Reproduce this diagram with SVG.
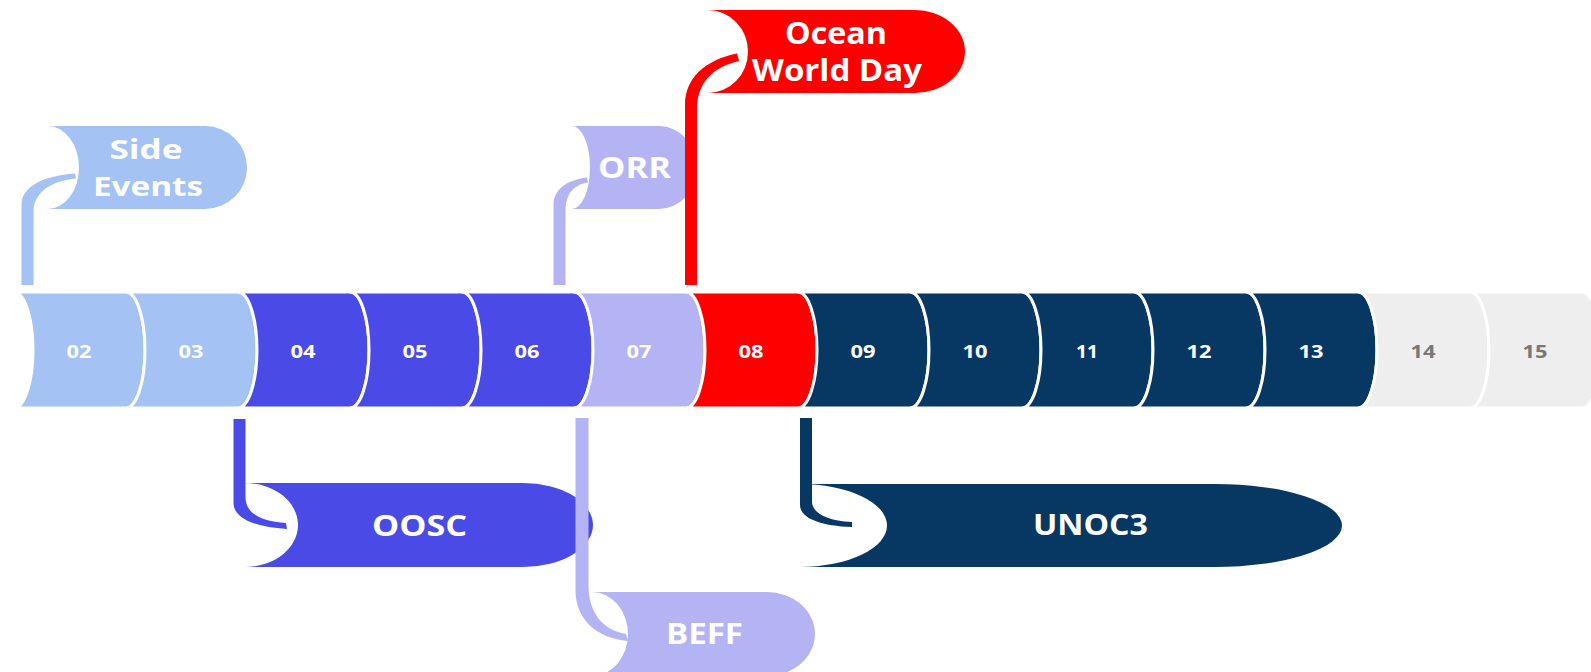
<svg xmlns="http://www.w3.org/2000/svg" width="1591" height="672" viewBox="0 0 1591 672">
<style>
.seg{stroke:#fff;stroke-width:3}
.num{font-family:"Open Sans","Liberation Sans",sans-serif;font-weight:700;font-size:18px;fill:#fff;text-anchor:middle}
.num.g{fill:#777}
.lbl{font-family:"Open Sans","Liberation Sans",sans-serif;font-weight:700;fill:#fff;text-anchor:middle}
.lb{fill:#a4c2f4}.ind{fill:#4a4ae6}.lav{fill:#b4b4f4}.red{fill:#ff0000}.navy{fill:#073763}.gray{fill:#eeeeee}
</style>
<rect width="1591" height="672" fill="#fff"/>
<g id="timeline">
<g id="d02"><path class="seg lb" d="M14,292 H126 A19,58 0 0 1 126,408 H14 A19,58 0 0 0 14,292 Z"/><text class="num" x="79" y="358" textLength="25" lengthAdjust="spacingAndGlyphs">02</text></g>
<g id="d03"><path class="seg lb" d="M126,292 H238 A19,58 0 0 1 238,408 H126 A19,58 0 0 0 126,292 Z"/><text class="num" x="191" y="358" textLength="25" lengthAdjust="spacingAndGlyphs">03</text></g>
<g id="d04"><path class="seg ind" d="M238,292 H350 A19,58 0 0 1 350,408 H238 A19,58 0 0 0 238,292 Z"/><text class="num" x="303" y="358" textLength="25" lengthAdjust="spacingAndGlyphs">04</text></g>
<g id="d05"><path class="seg ind" d="M350,292 H462 A19,58 0 0 1 462,408 H350 A19,58 0 0 0 350,292 Z"/><text class="num" x="415" y="358" textLength="25" lengthAdjust="spacingAndGlyphs">05</text></g>
<g id="d06"><path class="seg ind" d="M462,292 H574 A19,58 0 0 1 574,408 H462 A19,58 0 0 0 462,292 Z"/><text class="num" x="527" y="358" textLength="25" lengthAdjust="spacingAndGlyphs">06</text></g>
<g id="d07"><path class="seg lav" d="M574,292 H686 A19,58 0 0 1 686,408 H574 A19,58 0 0 0 574,292 Z"/><text class="num" x="639" y="358" textLength="25" lengthAdjust="spacingAndGlyphs">07</text></g>
<g id="d08"><path class="seg red" d="M686,292 H798 A19,58 0 0 1 798,408 H686 A19,58 0 0 0 686,292 Z"/><text class="num" x="751" y="358" textLength="25" lengthAdjust="spacingAndGlyphs">08</text></g>
<g id="d09"><path class="seg navy" d="M798,292 H910 A19,58 0 0 1 910,408 H798 A19,58 0 0 0 798,292 Z"/><text class="num" x="863" y="358" textLength="25" lengthAdjust="spacingAndGlyphs">09</text></g>
<g id="d10"><path class="seg navy" d="M910,292 H1022 A19,58 0 0 1 1022,408 H910 A19,58 0 0 0 910,292 Z"/><text class="num" x="975" y="358" textLength="25" lengthAdjust="spacingAndGlyphs">10</text></g>
<g id="d11"><path class="seg navy" d="M1022,292 H1134 A19,58 0 0 1 1134,408 H1022 A19,58 0 0 0 1022,292 Z"/><text class="num" x="1087" y="358" textLength="22" lengthAdjust="spacingAndGlyphs">11</text></g>
<g id="d12"><path class="seg navy" d="M1134,292 H1246 A19,58 0 0 1 1246,408 H1134 A19,58 0 0 0 1134,292 Z"/><text class="num" x="1199" y="358" textLength="25" lengthAdjust="spacingAndGlyphs">12</text></g>
<g id="d13"><path class="seg navy" d="M1246,292 H1358 A19,58 0 0 1 1358,408 H1246 A19,58 0 0 0 1246,292 Z"/><text class="num" x="1311" y="358" textLength="25" lengthAdjust="spacingAndGlyphs">13</text></g>
<g id="d14"><path class="seg gray" d="M1358,292 H1470 A19,58 0 0 1 1470,408 H1358 A19,58 0 0 0 1358,292 Z"/><text class="num g" x="1423" y="358" textLength="25" lengthAdjust="spacingAndGlyphs">14</text></g>
<g id="d15"><path class="seg gray" d="M1470,292 H1582 A19,58 0 0 1 1582,408 H1470 A19,58 0 0 0 1470,292 Z"/><text class="num g" x="1535" y="358" textLength="25" lengthAdjust="spacingAndGlyphs">15</text></g>
</g>
<g id="side-events"><path class="lb" d="M48,126 H205 A42,41.5 0 0 1 205,209 H48 A31,41.5 0 0 0 48,126 Z"/><text class="lbl" font-size="26" x="146" y="159" textLength="73" lengthAdjust="spacingAndGlyphs">Side</text><text class="lbl" font-size="26" x="148" y="196" textLength="110" lengthAdjust="spacingAndGlyphs">Events</text></g>
<g id="orr"><path class="lav" d="M572,126 H659 A38,41.5 0 0 1 659,209 H572 A18,41.5 0 0 0 572,126 Z"/><text class="lbl" font-size="28" x="634.5" y="178" textLength="73" lengthAdjust="spacingAndGlyphs">ORR</text></g>
<g id="ocean-world-day"><path class="red" d="M708,10 H915 A50,41.5 0 0 1 915,93 H708 A40,41.5 0 0 0 708,10 Z"/><text class="lbl" font-size="30" x="836" y="44" textLength="102" lengthAdjust="spacingAndGlyphs">Ocean</text><text class="lbl" font-size="30" x="837" y="81" textLength="170" lengthAdjust="spacingAndGlyphs">World Day</text></g>
<g id="oosc"><path class="ind" d="M245,483 H523 A70,42 0 0 1 523,567 H245 A53,42 0 0 0 245,483 Z"/><text class="lbl" font-size="28" x="419.5" y="536" textLength="95" lengthAdjust="spacingAndGlyphs">OOSC</text></g>
<g id="beff"><path class="lav" d="M592,592 H767 A48,42 0 0 1 767,676 H592 A36,42 0 0 0 592,592 Z"/><text class="lbl" font-size="28" x="704.5" y="644" textLength="77" lengthAdjust="spacingAndGlyphs">BEFF</text></g>
<g id="unoc3"><path class="navy" d="M800,484 H1215 A127,41.5 0 0 1 1215,567 H800 A87,41.5 0 0 0 800,484 Z"/><text class="lbl" font-size="28" x="1090.5" y="535" textLength="115" lengthAdjust="spacingAndGlyphs">UNOC3</text></g>
<g id="connectors">
<path class="lb" d="M21.5,285 V205 C21.5,187 42,176 75,173.5 L76,178.5 C50,181 33.5,193 33.5,212 V285 Z"/>
<path class="lav" d="M553.5,285 V205 C553.5,190 566,180 587,177.5 L588,182.5 C573,185 565.5,194 565.5,212 V285 Z"/>
<path class="red" d="M685,285 V105 C685,78 705,60 737,53.5 L739,61 C713,67 697,82 697,110 V285 Z"/>
<path class="ind" d="M233.5,419 V503 C233.5,517 252,527 287,529 L286,523 C258,521 245.5,512 245.5,497 V419 Z"/>
<path class="lav" d="M575.5,418 V590 C575.5,620 597,638 628,641 L626,634 C602,630 588.5,612 588.5,585 V418 Z"/>
<path class="navy" d="M800,418 V505 C800,518 820,526 852,527 L852,522 C826,521 812,512 812,502 V418 Z"/>
</g>
</svg>
